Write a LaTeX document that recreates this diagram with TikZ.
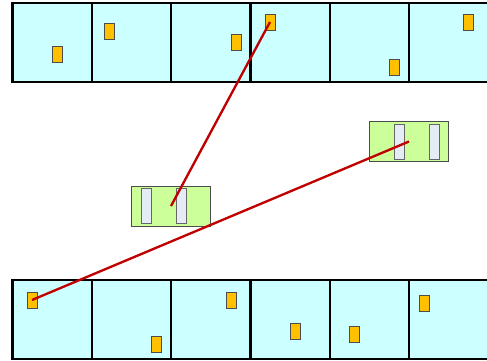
\documentclass[tikz,border=0pt]{standalone}
\usetikzlibrary{positioning}
\definecolor{cellcyan}{RGB}{204,255,255}
\definecolor{chipgold}{RGB}{255,192,0}
\definecolor{boardgreen}{RGB}{204,255,153}
\definecolor{slotgray}{RGB}{230,236,245}
\definecolor{wirered}{RGB}{192,0,0}

\begin{document}
\begin{tikzpicture}[x=0.03cm,y=-0.03cm,
    cell/.style={fill=cellcyan,draw=black,line width=2pt},
    chip/.style={draw=black!70,fill=chipgold,line width=0.7pt,inner sep=0pt,outer sep=0pt,minimum width=0.3cm,minimum height=0.48cm},
    board/.style={draw=black!70,fill=boardgreen,line width=0.7pt,inner sep=0pt,outer sep=0pt,minimum width=2.37cm,minimum height=1.2cm},
    slot/.style={draw=black!60,fill=slotgray,line width=0.7pt,inner sep=0pt,outer sep=0pt,minimum width=0.3cm,minimum height=1.05cm},
    wire/.style={wirered,line width=2pt}]
        \useasboundingbox (0,0) rectangle (487,360);
        \clip (0,0) rectangle (487,360);
        % rows of cells
        \foreach \x/\w in {12.5/92,92/171,171/250.5,250.5/330,330/409,409/500}{
          \draw[cell] (\x,3) rectangle (\w,82);
          \draw[cell] (\x,280) rectangle (\w,359);
        }
        % chips, top row
        \node[chip] (t1) at (57,54) {};
        \node[chip] (t2) at (109,31) {};
        \node[chip] (t3) at (236,42) {};
        \node[chip] (t4) at (270,22) {};
        \node[chip] (t5) at (394,67) {};
        \node[chip] (t6) at (468,22) {};
        % chips, bottom row
        \node[chip] (b1) at (32,300) {};
        \node[chip] (b2) at (156,344) {};
        \node[chip] (b3) at (231,300) {};
        \node[chip] (b4) at (295,331) {};
        \node[chip] (b5) at (354,334) {};
        \node[chip] (b6) at (424,303) {};
        % boards
        \node[board] (pcbA) at (171,206) {};
        \node[slot] (slotA1) at (146,205.5) {};
        \node[slot] (slotA2) at (181,205.5) {};
        \node[board] (pcbB) at (409,141.5) {};
        \node[slot] (slotB1) at (399,141.5) {};
        \node[slot] (slotB2) at (434,141.5) {};
        % wires
        \draw[wire] (t4.center) -- (pcbA.center);
        \draw[wire] (b1.center) -- (pcbB.center);
\end{tikzpicture}
\end{document}
